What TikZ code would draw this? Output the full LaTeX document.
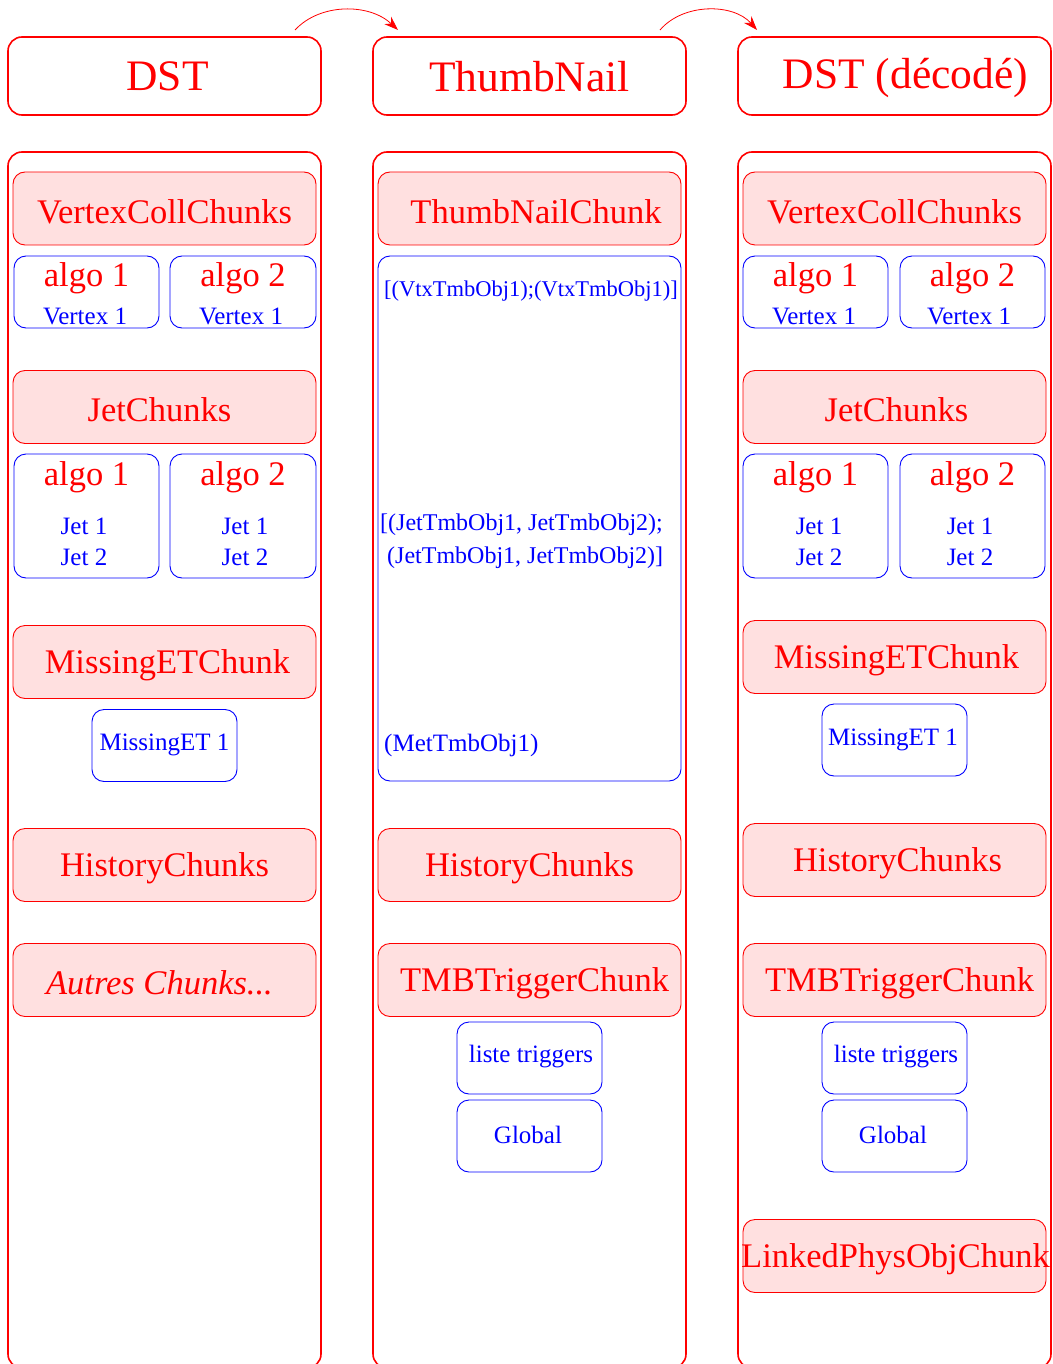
\documentclass[tikz,border=0pt]{standalone}
\usepackage{fontspec}
\setmainfont{Liberation Serif}
\usetikzlibrary{arrows.meta}
\definecolor{pinkf}{RGB}{255,224,224}
\newcommand{\titlefont}{\fontsize{43.5}{48}\selectfont}
\newcommand{\chunkfont}{\fontsize{34.5}{40}\selectfont}
\newcommand{\smallfont}{\fontsize{25}{30}\selectfont}
\newcommand{\tmbfont}{\fontsize{24}{28}\selectfont}
\newcommand{\ct}[2][0pt]{\makebox[0pt]{\hspace{#1}\raisebox{-3pt}[\height][\depth]{#2}}}
\newcommand{\ttl}[2][0pt]{\makebox[0pt]{\hspace{#1}\raisebox{-0.5pt}[\height][\depth]{#2}}}
\tikzset{
  colbox/.style={draw=red, line width=1.6pt, rounded corners=14pt, inner sep=0pt, minimum width=313pt},
  titlebox/.style={colbox, minimum height=78pt, text=red, font=\titlefont},
  chunk/.style={draw=red, fill=pinkf, line width=0.9pt, rounded corners=12pt, minimum width=303pt, minimum height=73pt, inner sep=0pt, text=red, font=\chunkfont},
  bluebox/.style={draw=blue, line width=0.9pt, rounded corners=12pt, inner sep=0pt, minimum width=145pt, minimum height=72pt},
  algotxt/.style={text=red, font=\chunkfont, inner sep=0pt},
  btxt/.style={text=blue, font=\smallfont, inner sep=0pt},
  ttxt/.style={text=blue, font=\tmbfont, inner sep=0pt, anchor=west},
  flow/.style={draw=red, line width=0.8pt, -{Stealth[length=14pt,width=10pt]}},
}
\begin{document}
\begin{tikzpicture}[x=1pt,y=-1pt]
\useasboundingbox (0,0) rectangle (1052,1364);

% title boxes
\node[titlebox] (t1) at (164.5,76) {\ttl[6pt]{DST}};
\node[titlebox] (t2) at (529.5,76) {\ttl{ThumbNail}};
\node[titlebox] (t3) at (894.5,76) {\makebox[0pt]{\hspace{22pt}\raisebox{-2pt}[\height][\depth]{DST (décodé)}}};

% flow arrows
\coordinate (s1) at (295,30); \coordinate (e1) at (398,30);
\coordinate (s2) at (660,30); \coordinate (e2) at (757,30);
\draw[flow] (s1) .. controls (320,3) and (369,3) .. (e1);
\draw[flow] (s2) .. controls (683,3) and (733,3) .. (e2);

% columns
\node[colbox, minimum height=1216pt] (c1) at (164.5,760) {};
\node[colbox, minimum height=1216pt] (c2) at (529.5,760) {};
\node[colbox, minimum height=1216pt] (c3) at (894.5,760) {};

% ---------- column 1 ----------
\node[chunk] (v1) at (164.5,208.5) {\ct{VertexCollChunks}};
\node[bluebox] (v1a) at (86.5,292) {};
\node[bluebox, minimum width=146pt] (v1b) at (243,292) {};
\node[algotxt] (v1at) at (86.5,278) {algo 1};
\node[btxt] (v1av) at (85,316) {Vertex 1};
\node[algotxt] (v1bt) at (243,278) {algo 2};
\node[btxt] (v1bv) at (241,316) {Vertex 1};

\node[chunk] (j1) at (164.5,407) {\ct[-10pt]{JetChunks}};
\node[bluebox, minimum height=124pt] (j1a) at (86.5,516) {};
\node[bluebox, minimum height=124pt, minimum width=146pt] (j1b) at (243,516) {};
\node[algotxt] (j1at) at (86.5,477) {algo 1};
\node[btxt] (j1a1) at (84,526) {Jet 1};
\node[btxt] (j1a2) at (84,557) {Jet 2};
\node[algotxt] (j1bt) at (243,477) {algo 2};
\node[btxt] (j1b1) at (245,526) {Jet 1};
\node[btxt] (j1b2) at (245,557) {Jet 2};

\node[chunk] (m1) at (164.5,662) {\ct[6pt]{MissingETChunk}};
\node[bluebox] (m1a) at (164.5,745.5) {};
\node[btxt] (m1at) at (164.5,745) {MissingET 1};

\node[chunk] (h1) at (164.5,865) {\ct{HistoryChunks}};
\node[chunk] (o1) at (164.5,980) {\ct[-10pt]{\itshape Autres Chunks...}};

% ---------- column 2 ----------
\node[chunk] (tn) at (529.5,208.5) {\ct[13pt]{ThumbNailChunk}};
\node[bluebox, minimum width=303pt, minimum height=525pt] (tb) at (529.5,518.5) {};
\node[ttxt, font=\fontsize{22.5}{27}\selectfont] (tv) at (384,291) {[(VtxTmbObj1);(VtxTmbObj1)]};
\node[ttxt] (tj1) at (380,524.5) {[(JetTmbObj1, JetTmbObj2);};
\node[ttxt] (tj2) at (387,557.5) {(JetTmbObj1, JetTmbObj2)]};
\node[ttxt, font=\fontsize{25}{30}\selectfont] (tm) at (384,745) {(MetTmbObj1)};

\node[chunk] (h2) at (529.5,865) {\ct{HistoryChunks}};
\node[chunk] (tr2) at (529.5,980) {\ct[10pt]{TMBTriggerChunk}};
\node[bluebox] (l2) at (529.5,1058) {};
\node[btxt] (l2t) at (531,1057) {liste triggers};
\node[bluebox] (g2) at (529.5,1136) {};
\node[btxt] (g2t) at (528,1135) {Global};

% ---------- column 3 ----------
\node[chunk] (v3) at (894.5,208.5) {\ct{VertexCollChunks}};
\node[bluebox] (v3a) at (815.5,292) {};
\node[bluebox] (v3b) at (972.5,292) {};
\node[algotxt] (v3at) at (815.5,278) {algo 1};
\node[btxt] (v3av) at (814,316) {Vertex 1};
\node[algotxt] (v3bt) at (972.5,278) {algo 2};
\node[btxt] (v3bv) at (969,316) {Vertex 1};

\node[chunk] (j3) at (894.5,407) {\ct[4pt]{JetChunks}};
\node[bluebox, minimum height=124pt] (j3a) at (815.5,516) {};
\node[bluebox, minimum height=124pt] (j3b) at (972.5,516) {};
\node[algotxt] (j3at) at (815.5,477) {algo 1};
\node[btxt] (j3a1) at (819,526) {Jet 1};
\node[btxt] (j3a2) at (819,557) {Jet 2};
\node[algotxt] (j3bt) at (972.5,477) {algo 2};
\node[btxt] (j3b1) at (970,526) {Jet 1};
\node[btxt] (j3b2) at (970,557) {Jet 2};

\node[chunk] (m3) at (894.5,657) {\ct[4pt]{MissingETChunk}};
\node[bluebox] (m3a) at (894.5,740) {};
\node[btxt] (m3at) at (893,740) {MissingET 1};

\node[chunk] (h3) at (894.5,860) {\ct[6pt]{HistoryChunks}};
\node[chunk] (tr3) at (894.5,980) {\ct[10pt]{TMBTriggerChunk}};
\node[bluebox] (l3) at (894.5,1058) {};
\node[btxt] (l3t) at (896,1057) {liste triggers};
\node[bluebox] (g3) at (894.5,1136) {};
\node[btxt] (g3t) at (893,1135) {Global};

\node[chunk] (lp3) at (894.5,1256) {\ct[2pt]{LinkedPhysObjChunk}};
\end{tikzpicture}
\end{document}
